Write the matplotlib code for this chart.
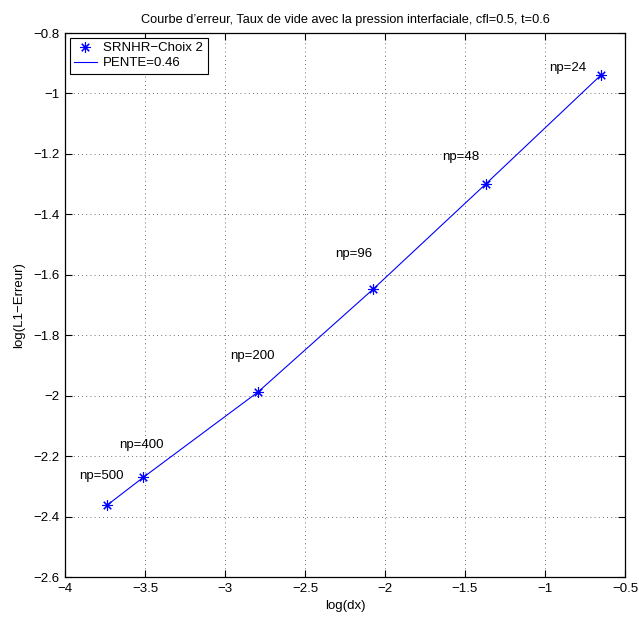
import matplotlib
matplotlib.use('Agg')
from matplotlib import pyplot as plt
import numpy as np

# log(dx) / log(L1 error) pairs, one per mesh size
np_labels = ["np=500", "np=400", "np=200", "np=96", "np=48", "np=24"]
log_dx = [-3.736, -3.51, -2.794, -2.075, -1.369, -0.65]
log_err = [-2.362, -2.270, -1.988, -1.648, -1.299, -0.939]

# where each np label sits
label_x = [-3.91, -3.66, -2.97, -2.31, -1.64, -0.975]
label_y = [-2.267, -2.164, -1.870, -1.532, -1.211, -0.916]

plt.rcParams['font.family'] = ['Liberation Sans', 'DejaVu Sans']
plt.rcParams['axes.unicode_minus'] = True

fs = 9.5

fig = plt.figure(figsize=(6.39, 6.21), dpi=100)
ax = fig.add_axes([65 / 639, 44 / 621, 560 / 639, 544 / 621])

# matlab style asterisk marker
ast = (8, 2, 0)
ax.plot(log_dx, log_err, linestyle='none', marker=ast, color='b', markersize=7.5,
        markeredgewidth=0.8, label="SRNHR\u2212Choix 2")
ax.plot(log_dx, log_err, 'b-', linewidth=0.8, label="PENTE=0.46")

for lbl, tx, ty in zip(np_labels, label_x, label_y):
    ax.text(tx, ty, lbl, fontsize=fs, va='center', ha='left')

ax.set_xlim(-4, -0.5)
ax.set_ylim(-2.6, -0.8)
ax.set_xticks(np.arange(-4, -0.49, 0.5))
ax.set_yticks(np.arange(-2.6, -0.79, 0.2))
ax.set_xticklabels(["\u22124", "\u22123.5", "\u22123", "\u22122.5", "\u22122", "\u22121.5", "\u22121", "\u22120.5"])
ax.set_yticklabels(["\u22122.6", "\u22122.4", "\u22122.2", "\u22122", "\u22121.8", "\u22121.6",
                    "\u22121.4", "\u22121.2", "\u22121", "\u22120.8"])
ax.tick_params(direction='in', top=True, right=True, labelsize=fs, length=5, width=0.8, pad=4)
ax.grid(True, linestyle=(0, (1, 4)), color='#404040', linewidth=0.6)
for s in ax.spines.values():
    s.set_linewidth(0.9)

ax.set_xlabel("log(dx)", fontsize=fs)
ax.set_ylabel("log(L1\u2212Erreur)", fontsize=fs, labelpad=6)
ax.set_title("Courbe d\u2019erreur, Taux de vide avec la pression interfaciale, cfl=0.5, t=0.6",
             fontsize=9.2, pad=7)

leg = ax.legend(loc='upper left', fontsize=fs, fancybox=False, edgecolor='black',
                framealpha=1, handlelength=1.7, handletextpad=0.5, labelspacing=0.2,
                borderpad=0.35, borderaxespad=0.35, numpoints=1)
leg.get_frame().set_linewidth(0.8)

fig.savefig("out.png", dpi=100)
